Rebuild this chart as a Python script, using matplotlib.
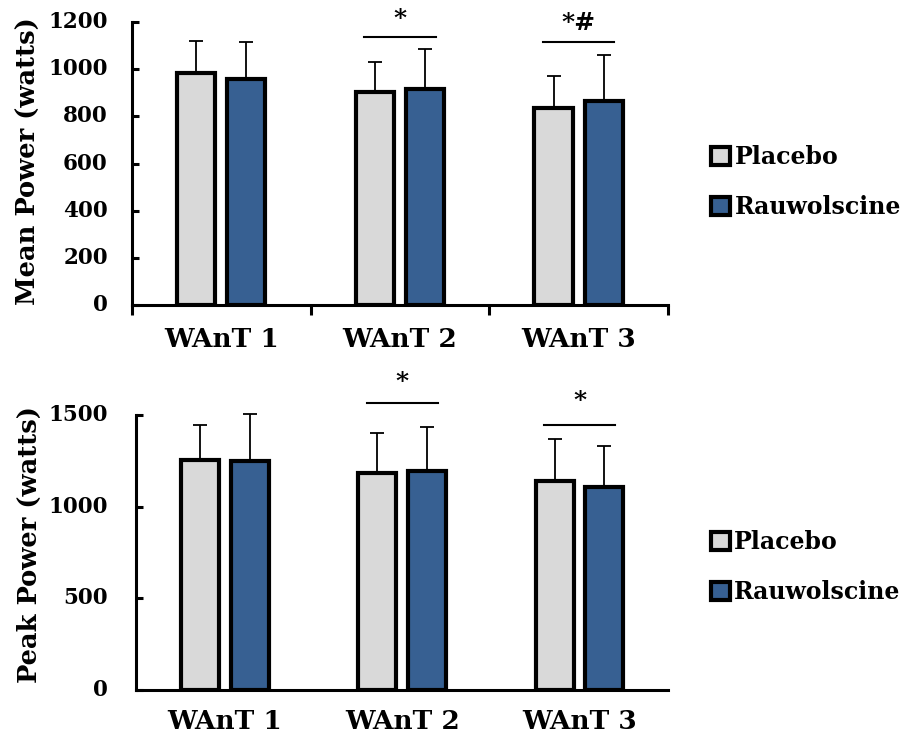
import numpy as np
import matplotlib
matplotlib.use("Agg")
import matplotlib.pyplot as plt
from matplotlib.patches import Patch

plt.rcParams['font.family'] = ['DejaVu Serif']
plt.rcParams['font.weight'] = 'bold'

tests = ['WAnT 1', 'WAnT 2', 'WAnT 3']
groups = ['Placebo', 'Rauwolscine']
colors = ['#D9D9D9', '#376092']

mean_placebo = [984, 903, 835]
mean_placebo_sd = [136, 127, 136]
mean_rauw = [958, 916, 865]
mean_rauw_sd = [157, 170, 195]

peak_placebo = [1255, 1183, 1140]
peak_placebo_sd = [190, 217, 230]
peak_rauw = [1250, 1195, 1107]
peak_rauw_sd = [255, 240, 223]

# significance marks: (category, line height, text height, text)
mean_sig = [(1, 1136, 1215, '*'), (2, 1115, 1195, '*#')]
peak_sig = [(1, 1566, 1680, '*'), (2, 1446, 1575, '*')]

fig = plt.figure(figsize=(9.09, 7.40), dpi=100)
ax1 = fig.add_axes([0.145, 0.588, 0.59, 0.382])
ax2 = fig.add_axes([0.150, 0.0676, 0.585, 0.3716])

x = np.arange(len(tests))
w = 0.215
off = 0.14


def draw(ax, vals, sds, ylim, yticks, ylabel, sig, xticks_out, label_xy,
         leg_y, xpad, ytl_x):
    for k, (v, s) in enumerate(zip(vals, sds)):
        pos = x + (-off if k == 0 else off)
        ax.bar(pos, v, width=w, color=colors[k], edgecolor='black',
               linewidth=3.0, zorder=3)
        eb = ax.errorbar(pos, v, yerr=[np.zeros(len(v)), s], fmt='none',
                         ecolor='black', elinewidth=1.3, capsize=5,
                         capthick=1.3, zorder=2)
        for part in eb.lines:
            for a in (part if isinstance(part, tuple) else [part]):
                if a is not None:
                    a.set_clip_on(False)
    ax.set_xlim(-0.5, 2.5)
    ax.set_ylim(*ylim)
    ax.set_yticks(yticks)
    ax.set_yticklabels([])
    for yt in yticks:
        ax.text(ytl_x, yt, str(yt), transform=ax.get_yaxis_transform(),
                ha='right', va='center', fontsize=15.5, fontweight='bold')
    ax.set_xticks(x)
    ax.set_xticklabels(tests, fontsize=19, fontweight='bold')
    ax.tick_params(axis='x', length=0, pad=xpad)
    if xticks_out:
        ax.set_xticks([-0.5, 0.5, 1.5, 2.5], minor=True)
        ax.tick_params(axis='x', which='minor', direction='out', length=7,
                       width=2.2)
    ax.tick_params(axis='y', direction='in', length=5, width=2.2)
    for sp in ['top', 'right']:
        ax.spines[sp].set_visible(False)
    for sp in ['left', 'bottom']:
        ax.spines[sp].set_linewidth(2.2)
    ax.set_ylabel(ylabel, fontsize=18.5, fontweight='bold')
    ax.yaxis.set_label_coords(*label_xy)
    for c, ly, ty, txt in sig:
        ax.plot([c - 0.2, c + 0.2], [ly, ly], color='black', lw=1.5,
                clip_on=False)
        ax.text(c, ty, txt, ha='center', va='center', fontsize=18,
                fontweight='bold', clip_on=False)
    handles = [Patch(facecolor=colors[i], edgecolor='black', linewidth=3,
                     label=groups[i]) for i in range(2)]
    ax.legend(handles=handles, loc='center left',
              bbox_to_anchor=(1.04, leg_y), frameon=False, fontsize=17,
              handlelength=0.8, handleheight=0.8, handletextpad=0.2,
              labelspacing=1.1)


draw(ax1, [mean_placebo, mean_rauw], [mean_placebo_sd, mean_rauw_sd],
     (0, 1200), [0, 200, 400, 600, 800, 1000, 1200], 'Mean Power (watts)',
     mean_sig, True, (-0.17, 0.51), 0.435, 16, -24 / 536)
draw(ax2, [peak_placebo, peak_rauw], [peak_placebo_sd, peak_rauw_sd],
     (0, 1500), [0, 500, 1000, 1500], 'Peak Power (watts)',
     peak_sig, False, (-0.178, 0.53), 0.447, 14, -28 / 532)

fig.savefig('out.png', dpi=100)
